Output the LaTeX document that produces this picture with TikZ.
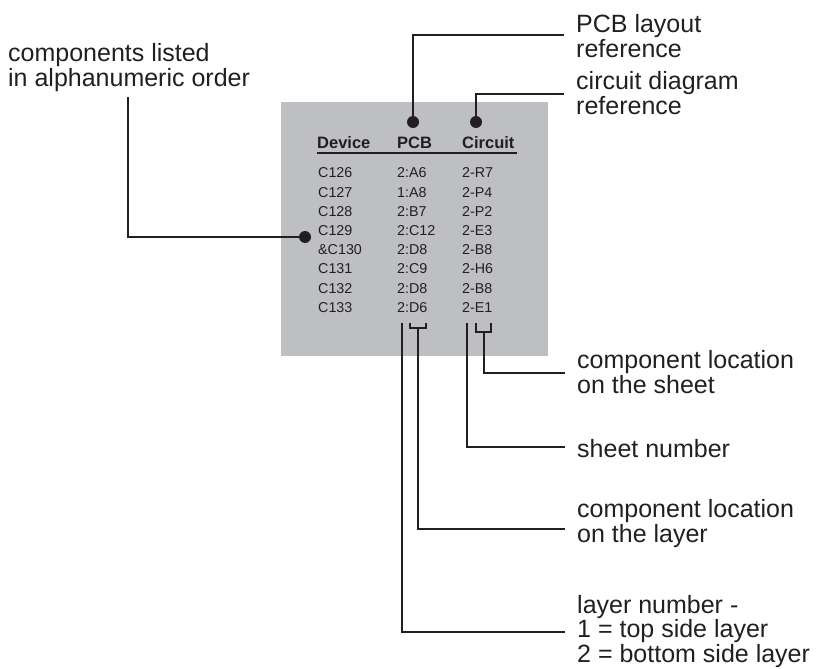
\documentclass[tikz,border=0pt]{standalone}
\usepackage{fontspec}
\setmainfont{Liberation Sans}
\definecolor{panelgray}{RGB}{190,191,194}
\definecolor{txt}{RGB}{35,31,32}
\begin{document}
\begin{tikzpicture}[x=1pt,y=-1pt,
  lbl/.style={anchor=base west, inner sep=0pt, font=\fontsize{25}{25}\selectfont, text=txt},
  cell/.style={anchor=base west, inner sep=0pt, font=\fontsize{14.3}{16}\selectfont, text=txt},
  head/.style={anchor=base west, inner sep=0pt, font=\fontsize{16.5}{18}\selectfont\bfseries, text=txt},
  dotn/.style={circle, fill=txt, inner sep=0pt, minimum size=12pt},
  wire/.style={draw=txt, line width=2.7pt, line cap=butt, line join=miter},
  panel/.style={fill=panelgray, inner sep=0pt, anchor=north west}]
\useasboundingbox (0,0) rectangle (819,669);

% grey panel
\node[panel, minimum width=267pt, minimum height=254pt] (panel) at (281,102) {};

% table header
\node[head] (hDev) at (317,148) {Device};
\node[head] (hPCB) at (397,148) {PCB};
\node[head] (hCir) at (462,148) {Circuit};
\coordinate (ulA) at (317,152.7);
\coordinate (ulB) at (517,152.7);
\draw[draw=txt, line width=2pt] (ulA) -- (ulB);

% table rows
\foreach \dev/\pcb/\cir [count=\i from 0] in
  {C126/2:A6/2-R7, C127/1:A8/2-P4, C128/2:B7/2-P2, C129/2:C12/2-E3,
   {\&C130}/2:D8/2-B8, C131/2:C9/2-H6, C132/2:D8/2-B8, C133/2:D6/2-E1}
{
  \node[cell] (d\i) at (318,177.8+19.2*\i) {\dev};
  \node[cell] (p\i) at (397,177.8+19.2*\i) {\pcb};
  \node[cell] (c\i) at (462,177.8+19.2*\i) {\cir};
}

% dots
\node[dotn] (dotL) at (305,237) {};
\node[dotn] (dotP) at (413,122) {};
\node[dotn] (dotC) at (476,122) {};

% labels
\node[lbl] (lblL1) at (8,62) {components listed};
\node[lbl] (lblL2) at (8,86.5) {in alphanumeric order};
\node[lbl] (lblP1) at (576,33) {PCB layout};
\node[lbl] (lblP2) at (576,58) {reference};
\node[lbl] (lblC1) at (576,89) {circuit diagram};
\node[lbl] (lblC2) at (576,114) {reference};
\node[lbl] (lblS1) at (577,368) {component location};
\node[lbl] (lblS2) at (577,393) {on the sheet};
\node[lbl] (lblN)  at (577,457) {sheet number};
\node[lbl] (lblY1) at (577,517) {component location};
\node[lbl] (lblY2) at (577,542) {on the layer};
\node[lbl] (lblR1) at (577,613) {layer number -};
\node[lbl] (lblR2) at (577,637.5) {1 = top side layer};
\node[lbl] (lblR3) at (577,662) {2 = bottom side layer};

% connector end points
\coordinate (eL) at (128,97);
\coordinate (eP) at (564,35);
\coordinate (eC) at (564,94);
\coordinate (eS) at (565,373);
\coordinate (eN) at (565,447);
\coordinate (eY) at (565,529);
\coordinate (eR) at (565,632);

% upper connectors
\draw[wire] (dotL.center) -| (eL);
\draw[wire] (dotP.center) |- (eP);
\draw[wire] (dotC.center) |- (eC);

% brackets under the table
\coordinate (bPa) at (410,323);
\coordinate (bPb) at (426,323);
\coordinate (bPs) at (418,328);
\draw[wire] (bPa) -- (bPa|-bPs) -- (bPb|-bPs) -- (bPb);
\coordinate (bCa) at (476,323);
\coordinate (bCb) at (491,323);
\coordinate (bCs) at (484,332);
\draw[wire] (bCa) -- (bCa|-bCs) -- (bCb|-bCs) -- (bCb);

% lower connectors
\coordinate (sLay) at (402,323);
\coordinate (sSht) at (467,323);
\draw[wire] (bCs) |- (eS);
\draw[wire] (sSht) |- (eN);
\draw[wire] (bPs) |- (eY);
\draw[wire] (sLay) |- (eR);
\end{tikzpicture}
\end{document}
